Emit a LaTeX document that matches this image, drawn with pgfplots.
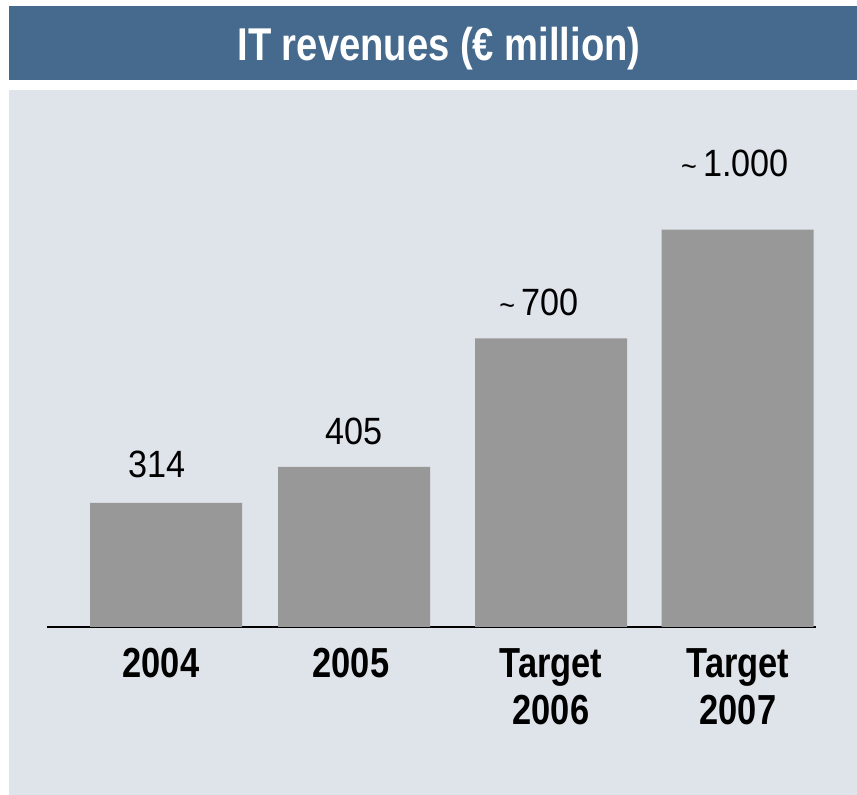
\documentclass[border=0pt]{standalone}
\usepackage{pgfplots}
\pgfplotsset{compat=1.18}
\usepackage{fontspec}
\setmainfont{Liberation Sans}
\newfontfamily\titlefont[FakeStretch=0.83]{Liberation Sans}
\newfontfamily\numfont[FakeStretch=0.9]{Liberation Sans}
\newfontfamily\tickfont[FakeStretch=0.82]{Liberation Sans}
\definecolor{banner}{HTML}{456A8D}
\definecolor{panel}{HTML}{DFE3EA}
\definecolor{barcol}{HTML}{989898}
\newcommand{\tl}{{\fontsize{30}{30}\selectfont\textasciitilde}}
\begin{document}
\begin{tikzpicture}[x=1pt,y=1pt]
\fill[white] (0,0) rectangle (857,795);
\fill[banner] (9,715) rectangle (857,789);
\fill[panel] (9,0) rectangle (857,705);
\node[white, font=\titlefont\bfseries\fontsize{46}{50}\selectfont, anchor=base, inner sep=0pt] at (439,734) {IT revenues (€ million)};
\begin{axis}[
  at={(47pt,168pt)}, anchor=south west,
  scale only axis, width=769pt, height=395.5pt,
  xmin=47, xmax=816, ymin=0, ymax=1000,
  clip=false,
  axis x line=bottom, axis y line=none,
  axis line style={-, line width=1.6pt, black},
  major tick length=0pt,
  ytick=\empty,
  xtick={161,351,551,738},
  xticklabels={2004,2005,{Target\\2006},{Target\\2007}},
  xticklabel style={font=\tickfont\bfseries\fontsize{42}{47}\selectfont, align=center, anchor=north, inner sep=0pt, yshift=-21pt},
]
\addplot[ybar, bar width=152pt, fill=barcol, draw=none] coordinates {(166,314) (354,405) (551,730) (737.5,1005)};
\node[anchor=base, inner sep=0pt, yshift=25pt, font=\numfont\fontsize{38}{40}\selectfont] at (axis cs:157,314) {314};
\node[anchor=base, inner sep=0pt, yshift=22pt, font=\numfont\fontsize{38}{40}\selectfont] at (axis cs:354,405) {405};
\node[anchor=base, inner sep=0pt, yshift=23pt, font=\numfont\fontsize{38}{40}\selectfont] at (axis cs:539,730) {\tl\,700};
\node[anchor=base, inner sep=0pt, yshift=53pt, font=\numfont\fontsize{38}{40}\selectfont] at (axis cs:735,1005) {\tl\,1.000};
\end{axis}
\end{tikzpicture}
\end{document}
